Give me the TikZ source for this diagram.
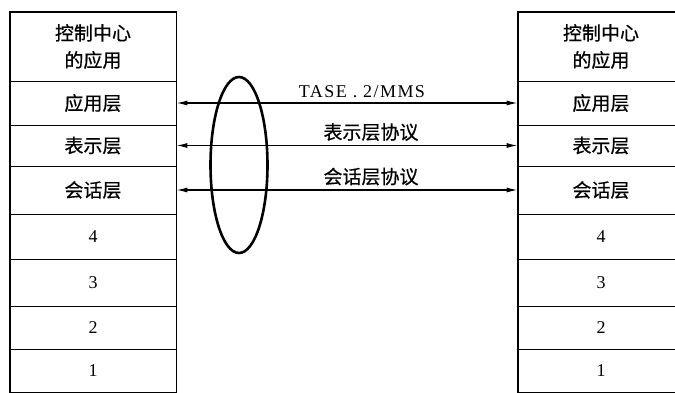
\documentclass[tikz,border=0pt]{standalone}
\usepackage{fontspec}
\newfontfamily\cjk{Noto Sans CJK SC}[FakeBold=0.6]
\newfontfamily\numfont{Liberation Serif}
\newfontfamily\tasefont{Liberation Serif}[LetterSpace=8]
\usetikzlibrary{arrows.meta,shapes.geometric}

\begin{document}
\begin{tikzpicture}[
    x=1pt, y=-1pt,
    layer/.style={draw,line width=0.8pt,minimum width=166pt,inner sep=0pt,align=center,font={\cjk\fontsize{19}{27}\selectfont}},
    digit/.style={layer,font={\numfont\fontsize{18}{20}\selectfont}},
    link/.style={{Latex[length=11pt,width=5pt]}-{Latex[length=11pt,width=5pt]},line width=1.2pt},
    proto/.style={above,inner sep=4pt,font={\cjk\fontsize{19}{22}\selectfont}},
]
    \useasboundingbox (0,0) rectangle (675,392);

    % Left stack
    \node[layer, minimum height=69pt] (lhead) at (93,46.5)  {控制中心\\的应用};
    \node[layer, minimum height=44pt] (lapp)  at (93,103)   {应用层};
    \node[layer, minimum height=41pt] (lpres) at (93,145.5) {表示层};
    \node[layer, minimum height=48pt] (lsess) at (93,190)   {会话层};
    \node[digit, minimum height=45pt] (lfour) at (93,236.5) {4};
    \node[digit, minimum height=47pt] (lthree) at (93,282.5) {3};
    \node[digit, minimum height=43pt] (ltwo)  at (93,327.5) {2};
    \node[digit, minimum height=43pt] (lone)  at (93,370.5) {1};
    \draw[line width=1.8pt] (lhead.north west) rectangle (lone.south east);

    % Right stack
    \node[layer, minimum height=69pt] (rhead) at (601,46.5)  {控制中心\\的应用};
    \node[layer, minimum height=44pt] (rapp)  at (601,103)   {应用层};
    \node[layer, minimum height=41pt] (rpres) at (601,145.5) {表示层};
    \node[layer, minimum height=48pt] (rsess) at (601,190)   {会话层};
    \node[digit, minimum height=45pt] (rfour) at (601,236.5) {4};
    \node[digit, minimum height=47pt] (rthree) at (601,282.5) {3};
    \node[digit, minimum height=43pt] (rtwo)  at (601,327.5) {2};
    \node[digit, minimum height=43pt] (rone)  at (601,370.5) {1};
    \draw[line width=1.8pt] (rhead.north west) rectangle (rone.south east);

    % Peer protocols
    \draw[link] (lapp.east) -- (rapp.west)
        node[proto, midway, xshift=15pt, yshift=1pt, font={\tasefont\fontsize{18}{20}\selectfont}] {TASE . 2/MMS};
    \draw[link] (lpres.east) -- (rpres.west)
        node[proto, midway, xshift=24pt] {表示层协议};
    \draw[link] (lsess.east) -- (rsess.west)
        node[proto, midway, xshift=24pt] {会话层协议};

    \node[draw, ellipse, line width=2.6pt, minimum width=57pt, minimum height=176pt, inner sep=0pt] (bundle) at (239,165) {};

\end{tikzpicture}
\end{document}
